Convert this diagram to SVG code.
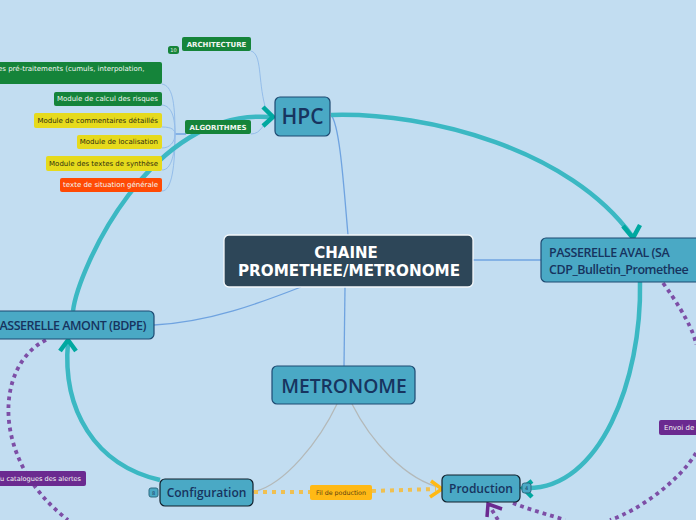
<svg xmlns="http://www.w3.org/2000/svg" width="696" height="520" viewBox="0 0 696 520">
<style>
.thin{fill:none;stroke:#6fa3e0;stroke-width:1.300}
.sub{fill:none;stroke:#94bdea;stroke-width:1}
.grey{fill:none;stroke:#b4b9b9;stroke-width:1.300}
.teal{fill:none;stroke:#3bb8c3;stroke-width:4.500}
.tealh{fill:none;stroke:#00a8a0;stroke-width:4.500}
.pur{fill:none;stroke:#7d4ea6;stroke-width:3.800;stroke-dasharray:3.800 4}
.yel{fill:none;stroke:#f0c050;stroke-width:4;stroke-dasharray:4 5}
.main rect{fill:#4aa9c5;stroke:#1d4a72;stroke-width:1.2}
.t{font-family:"Open Sans",sans-serif;fill:#17345f;font-weight:600}
.s{font-family:"DejaVu Sans",sans-serif;font-size:7px}
.g{fill:#15843a}.y{fill:#e6da1c}.r{fill:#ff4a05}.p{fill:#6b2a90}.o{fill:#ffb915}
.w{fill:#f2f6f2}.k{fill:#2f2f10}
</style>
<rect width="696" height="520" fill="#c2ddf1"/>
<g id="connectors">
<path class="thin" d="M331 115C340 125 344 190 348 235"/>
<path class="thin" d="M473 260H541"/>
<path class="thin" d="M345 287L344 366"/>
<path class="thin" d="M154 325C210 322 260 303 301 287"/>
<path class="grey" d="M337 404C320 440 285 485 253 492"/>
<path class="grey" d="M352 404C370 440 405 480 442 488"/>
<path class="sub" d="M251 51C262 54 258 80 265 106"/>
<path class="sub" d="M251 134C262 134 262 122 272 120"/>
<path d="M175 134H186" fill="none" stroke="#6fa3e0" stroke-width="1.500"/>
<path class="sub" d="M162 84C172 86 175 100 175 134"/>
<path class="sub" d="M162 105C172 106 175 118 175 134"/>
<path class="sub" d="M162 127C172 127 175 130 175 134"/>
<path class="sub" d="M162 148C170 148 175 142 175 134"/>
<path class="sub" d="M162 170C172 170 175 152 175 134"/>
<path class="sub" d="M162 191C172 191 175 165 175 134"/>
<path class="teal" d="M73 311C78 270 150 108 270 117"/>
<path class="tealh" d="M263 107L273 117L263 126"/>
<path class="teal" d="M331 115C430 112 570 150 632 236"/>
<path class="tealh" d="M623 226L633 238L640 225"/>
<path class="teal" d="M640 282C642 380 600 490 526 488"/>
<path class="tealh" d="M532 481L523 488L532 497"/>
<path class="teal" d="M160 480C95 465 62 410 68 342"/>
<path class="tealh" d="M60 351L68 340L76 351"/>
<path class="pur" d="M46 340C-5 365 -10 460 68 520"/>
<path class="pur" d="M663 283C690 320 696 340 696 345"/>
<path class="pur" d="M696 453C680 480 640 510 610 520"/>
<path class="pur" d="M513 503C530 510 550 515 565 520"/>
<path class="pur" d="M492 510L498 520"/>
<path d="M487 517L488 504L502 509" fill="none" stroke="#6b2a90" stroke-width="3.500"/>
<path class="yel" d="M254 492H310M372 491L436 489"/>
<path d="M431 481L442 489L430 497" fill="none" stroke="#ffb915" stroke-width="3.500"/>
</g>
<g id="central"><rect x="224" y="235" width="249" height="52" rx="5" fill="#2d4658" stroke="#f4f8fa" stroke-width="1.300"/>
<text x="346" y="258" text-anchor="middle" font-family="'DejaVu Sans',sans-serif" font-weight="700" font-size="15" fill="#fff">CHAINE</text>
<text x="349" y="276" text-anchor="middle" font-family="'DejaVu Sans',sans-serif" font-weight="700" font-size="15.200" fill="#fff">PROMETHEE/METRONOME</text></g>
<g id="hpc" class="main"><rect x="275" y="97" width="55" height="39" rx="5"/><text class="t" x="302.500" y="124" text-anchor="middle" font-size="21">HPC</text></g>
<g id="metronome" class="main"><rect x="272" y="366" width="143" height="38" rx="5"/><text class="t" x="344" y="393" text-anchor="middle" font-size="19.300">METRONOME</text></g>
<g id="aval" class="main"><rect x="541" y="238" width="170" height="44" rx="5"/><text class="t" x="549" y="257" font-size="12.500" letter-spacing="-.45">PASSERELLE AVAL (SA</text><text class="t" x="549" y="274" font-size="12.500" letter-spacing="-.45">CDP_Bulletin_Promethee</text></g>
<g id="amont" class="main"><rect x="-20" y="311" width="174" height="28" rx="5"/><text class="t" x="146" y="330" text-anchor="end" font-size="12.500" letter-spacing="-.5">PASSERELLE AMONT (BDPE)</text></g>
<g id="configuration" class="main"><rect x="160" y="479" width="93" height="27" rx="5" style="stroke:#10202c"/><text class="t" x="206.500" y="497" text-anchor="middle" font-size="12">Configuration</text></g>
<g id="production" class="main"><rect x="442" y="475" width="78" height="27" rx="5" style="stroke:#10202c"/><text class="t" x="481" y="493" text-anchor="middle" font-size="12">Production</text></g>
<g id="count-config"><rect x="149" y="488" width="9" height="9" rx="2" fill="#4aa9c5" stroke="#2e6a80"/><text x="153.500" y="495" text-anchor="middle" font-family="'DejaVu Sans',sans-serif" font-size="5" fill="#17345f">8</text></g>
<g id="count-prod"><rect x="522" y="483" width="9" height="10" rx="2.500" fill="#4aa9c5" stroke="#2e6a80"/><text x="526.500" y="490" text-anchor="middle" font-family="'DejaVu Sans',sans-serif" font-size="5" fill="#17345f">4</text></g>
<g id="count-arch"><rect x="168" y="46" width="11" height="8" rx="2.500" class="g"/><text x="173.500" y="52" text-anchor="middle" font-family="'DejaVu Sans',sans-serif" font-size="5" fill="#e8f2e8">10</text></g>
<g id="architecture"><rect x="182" y="37" width="69" height="14" rx="2" class="g"/><text class="s w" x="216.500" y="46.500" text-anchor="middle" font-weight="700">ARCHITECTURE</text></g>
<g id="algorithmes"><rect x="185" y="120" width="66" height="14" rx="2" class="g"/><text class="s w" x="218" y="129.500" text-anchor="middle" font-weight="700">ALGORITHMES</text></g>
<g id="pretraitements"><rect x="-10" y="62" width="172" height="22" rx="2" class="g"/><text class="s w" x="-2" y="71">es pré-traitements (cumuls, interpolation,</text></g>
<g id="risques"><rect x="54" y="92" width="108" height="14" rx="2" class="g"/><text class="s w" x="158" y="101" text-anchor="end">Module de calcul des risques</text></g>
<g id="commentaires"><rect x="34" y="113" width="128" height="15" rx="2" class="y"/><text class="s k" x="158" y="123" text-anchor="end">Module de commentaires détaillés</text></g>
<g id="localisation"><rect x="77" y="135" width="85" height="14" rx="2" class="y"/><text class="s k" x="158" y="144" text-anchor="end">Module de localisation</text></g>
<g id="synthese"><rect x="46" y="156" width="116" height="15" rx="2" class="y"/><text class="s k" x="158" y="166" text-anchor="end">Module des textes de synthèse</text></g>
<g id="situation"><rect x="60" y="178" width="102" height="14" rx="2" class="r"/><text class="s w" x="158" y="187" text-anchor="end">texte de situation générale</text></g>
<g id="catalogues"><rect x="-10" y="471" width="96" height="15" rx="2" class="p"/><text class="s w" x="81" y="481" text-anchor="end" style="font-size:6.600px">du catalogues des alertes</text></g>
<g id="envoi"><rect x="659" y="420" width="50" height="15" rx="2" class="p"/><text class="s w" x="664" y="429.500">Envoi de l</text></g>
<g id="fil"><rect x="310" y="485" width="62" height="15" rx="2" class="o"/><text class="s" x="341" y="495" text-anchor="middle" style="font-size:6.300px" fill="#5a4210">Fil de poduction</text></g>
</svg>
